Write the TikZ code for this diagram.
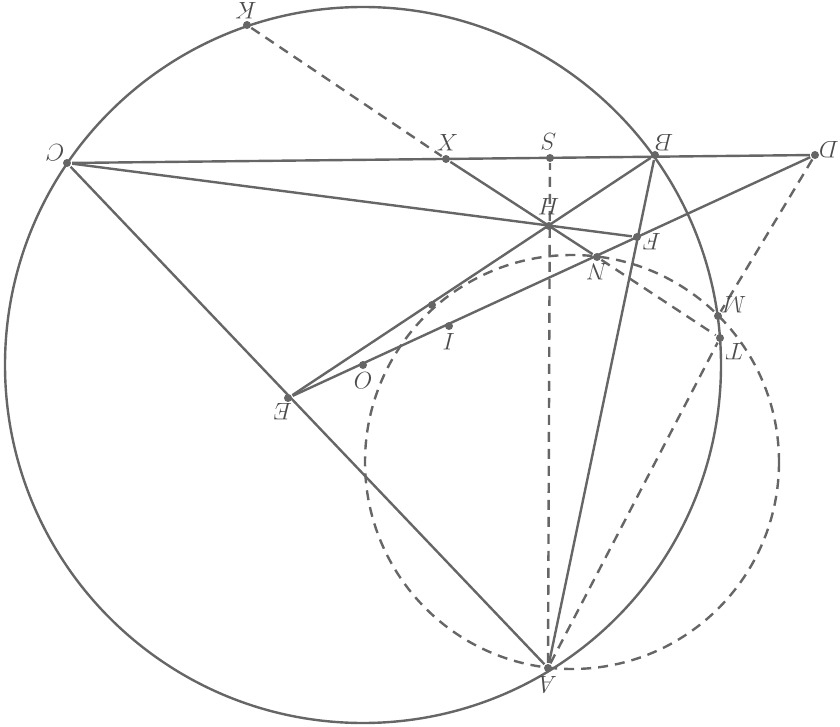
\documentclass[tikz,border=0pt]{standalone}
\usepackage{tikz}
\usepackage{amsmath}
\definecolor{lineg}{gray}{0.40}
\begin{document}
\begin{tikzpicture}[x=0.5pt, y=-0.5pt, color=lineg, line width=1.2pt,
  pt/.style={circle, fill=lineg, inner sep=0pt, minimum size=4pt},
  lbl/.style={rotate=180, inner sep=0pt, text=black!70, font=\large},
  aux/.style={dash pattern=on 5pt off 3.5pt}]
  \useasboundingbox (0,0) rectangle (840,727);

  % points of the figure
  \node (O) [pt] at (363,365) {};
  \node (A) [pt] at (548,668) {};
  \node (B) [pt] at (655,155) {};
  \node (C) [pt] at (67,163) {};
  \node (D) [pt] at (815,155) {};
  \node (E) [pt] at (288,398) {};
  \node (F) [pt] at (637,237) {};
  \node (H) [pt] at (549,226) {};
  \node (N) [pt] at (597,257) {};
  \node (S) [pt] at (550,158) {};
  \node (X) [pt] at (446,159) {};
  \node (K) [pt] at (247,25) {};
  \node (I) [pt] at (449,326) {};
  \node (M) [pt] at (718,316) {};
  \node (T) [pt] at (720,338) {};
  \node (Q) [pt] at (432,305) {};
  \coordinate (Z) at (572,462);

  % circles
  \draw (O) circle[radius=358];
  \draw[aux] (Z) circle[radius=207];

  % solid lines
  \draw (C) -- (D);
  \draw (C) -- (A);
  \draw (E) -- (B);
  \draw (E) -- (D);
  \draw (C) -- (F);
  \draw (B) -- (A);
  \draw (X) -- (N);

  % dashed lines
  \draw[aux] (K) -- (X);
  \draw[aux] (N) -- (T);
  \draw[aux] (A) -- (S);
  \draw[aux] (A) -- (T);
  \draw[aux] (D) -- (M);

  % labels, turned upside down as in the figure
  \node (lA) [lbl] at (548,685) {$A$};
  \node (lB) [lbl] at (664,143) {$B$};
  \node (lC) [lbl] at (55,153) {$C$};
  \node (lD) [lbl] at (829,150) {$D$};
  \node (lE) [lbl] at (283,412) {$E$};
  \node (lF) [lbl] at (652,242) {$F$};
  \node (lH) [lbl] at (549,207) {$H$};
  \node (lN) [lbl] at (597,272) {$N$};
  \node (lS) [lbl] at (549,142) {$S$};
  \node (lX) [lbl] at (447,143) {$X$};
  \node (lK) [lbl] at (246,11) {$K$};
  \node (lO) [lbl] at (363,381) {$O$};
  \node (lI) [lbl] at (449,342) {$I$};
  \node (lM) [lbl] at (734,305) {$M$};
  \node (lT) [lbl] at (734,352) {$T$};
\end{tikzpicture}
\end{document}
